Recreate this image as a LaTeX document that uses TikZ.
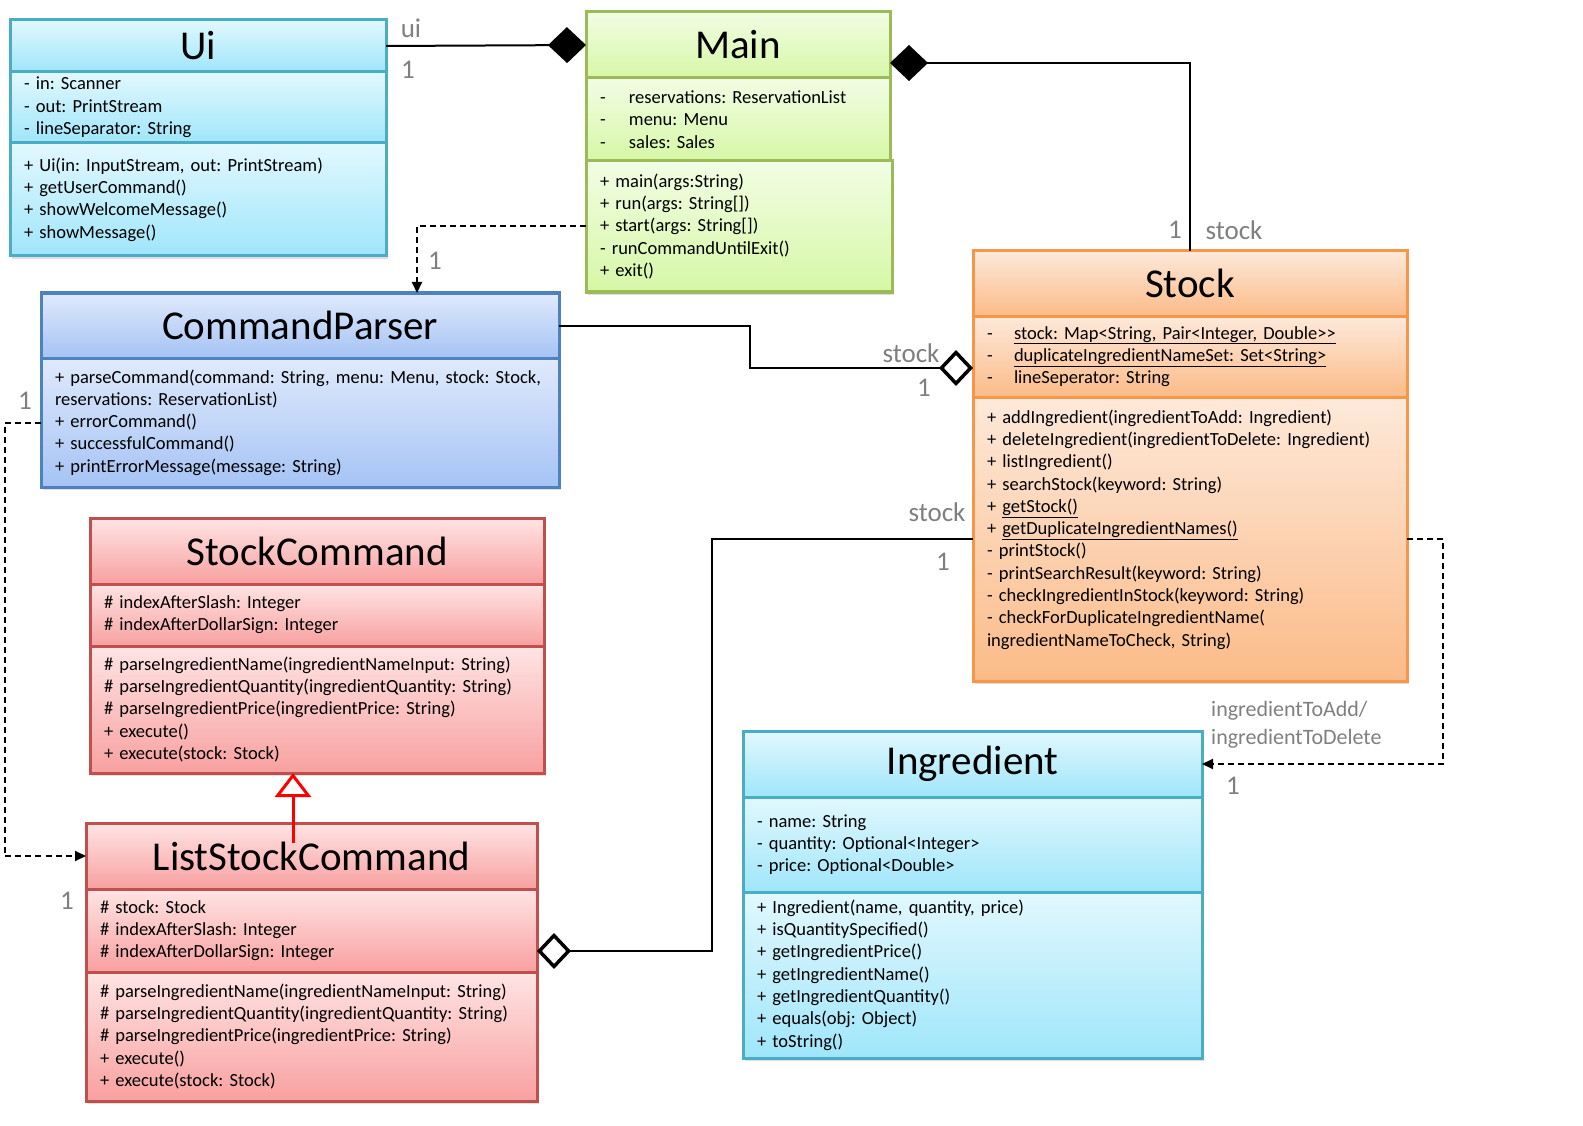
\documentclass[tikz,border=0pt]{standalone}
\usepackage{fontspec}
\setmainfont{Carlito}
\usetikzlibrary{arrows.meta,shadows}
\frenchspacing

\definecolor{cyanline}{HTML}{4BACC6}
\definecolor{cyantop}{HTML}{E2F8FE}
\definecolor{cyanbot}{HTML}{9FE6FA}
\definecolor{greenline}{HTML}{9BBB59}
\definecolor{greentop}{HTML}{F2FDE4}
\definecolor{greenbot}{HTML}{D6F7A6}
\definecolor{orangeline}{HTML}{F79646}
\definecolor{orangetop}{HTML}{FDE9DA}
\definecolor{orangebot}{HTML}{FBBB88}
\definecolor{blueline}{HTML}{4F81BD}
\definecolor{bluetop}{HTML}{E0EAFB}
\definecolor{bluebot}{HTML}{A5C3F5}
\definecolor{redline}{HTML}{C0504D}
\definecolor{redtop}{HTML}{FFE4E4}
\definecolor{redbot}{HTML}{F8A0A0}
\definecolor{labelgray}{HTML}{7F7F7F}

\begin{document}
\frenchspacing
\begin{tikzpicture}[x=1pt,y=-1pt,
    part/.style={draw, line width=3pt, anchor=north west, outer sep=0pt, inner sep=0pt,
        drop shadow={opacity=.25, shadow xshift=2pt, shadow yshift=-3pt}},
    head/.style={part, font=\fontsize{41}{48}\selectfont},
    body/.style={part, align=left, inner xsep=14pt, font=\fontsize{18.5}{22.3}\selectfont\frenchspacing},
    cyanpart/.style={draw=cyanline, top color=cyantop, bottom color=cyanbot},
    greenpart/.style={draw=greenline, top color=greentop, bottom color=greenbot},
    orangepart/.style={draw=orangeline, top color=orangetop, bottom color=orangebot},
    bluepart/.style={draw=blueline, top color=bluetop, bottom color=bluebot},
    redpart/.style={draw=redline, top color=redtop, bottom color=redbot},
    link/.style={line width=2pt},
    dep/.style={link, dash pattern=on 6pt off 4pt, -{Triangle[length=11pt,width=10pt]}},
    comp/.style={link, -{Diamond[length=38pt,width=36pt]}},
    aggr/.style={link, -{Diamond[open,length=34pt,width=36pt,line width=3.5pt]}},
    inherit/.style={red, line width=3pt, -{Triangle[open,length=24pt,width=36pt]}},
    lbl/.style={text=labelgray, inner sep=0pt, font=\fontsize{27}{30}\selectfont}]
    \useasboundingbox (0,0) rectangle (1583,1126);

    % Ui
    \node[head, cyanpart, minimum width=376pt, minimum height=52pt] (uiT) at (10,20) {Ui};
    \node[body, cyanpart, minimum width=376pt, minimum height=71pt, text width=348pt] (uiA) at (10,72)
        {- in: Scanner\\- out: PrintStream\\- lineSeparator: String};
    \node[body, cyanpart, minimum width=376pt, minimum height=113pt, text width=348pt] (uiM) at (10,143)
        {+ Ui(in: InputStream, out: PrintStream)\\+ getUserCommand()\\+ showWelcomeMessage()\\+ showMessage()};

    % Main
    \node[head, greenpart, minimum width=304pt, minimum height=66pt] (mainT) at (586,12) {Main};
    \node[body, greenpart, minimum width=304pt, minimum height=83pt, text width=276pt] (mainA) at (586,78)
        {\makebox[29pt][l]{-}reservations: ReservationList\\\makebox[29pt][l]{-}menu: Menu\\\makebox[29pt][l]{-}sales: Sales};
    \node[body, greenpart, minimum width=306pt, minimum height=131pt, text width=278pt] (mainM) at (586,161)
        {+ main(args:String)\\+ run(args: String[])\\+ start(args: String[])\\- runCommandUntilExit()\\+ exit()};

    % Stock
    \node[head, orangepart, minimum width=434pt, minimum height=65pt] (stockT) at (973,251) {Stock};
    \node[body, orangepart, minimum width=434pt, minimum height=81pt, text width=406pt] (stockA) at (973,316)
        {\makebox[27pt][l]{-}\underline{stock: Map<String, Pair<Integer, Double>{}>}\\
         \makebox[27pt][l]{-}\underline{duplicateIngredientNameSet: Set<String>}\\
         \makebox[27pt][l]{-}lineSeperator: String};
    \node[body, orangepart, minimum width=434pt, minimum height=284pt, text width=406pt] (stockM) at (973,397)
        {+ addIngredient(ingredientToAdd: Ingredient)\\+ deleteIngredient(ingredientToDelete: Ingredient)\\
         + listIngredient()\\+ searchStock(keyword: String)\\+ \underline{getStock()}\\
         + \underline{getDuplicateIngredientNames()}\\- printStock()\\- printSearchResult(keyword: String)\\
         - checkIngredientInStock(keyword: String)\\- checkForDuplicateIngredientName(\\
         ingredientNameToCheck, String)\\\mbox{}};

    % CommandParser
    \node[head, bluepart, minimum width=518pt, minimum height=65pt] (cpT) at (41,293) {CommandParser};
    \node[body, bluepart, minimum width=518pt, minimum height=129pt, text width=490pt] (cpM) at (41,358)
        {+ parseCommand(command: String, menu: Menu, stock: Stock,\\reservations: ReservationList)\\
         + errorCommand()\\+ successfulCommand()\\+ printErrorMessage(message: String)};

    % StockCommand
    \node[head, redpart, minimum width=454pt, minimum height=66pt] (scT) at (90,518) {StockCommand};
    \node[body, redpart, minimum width=454pt, minimum height=62pt, text width=426pt] (scA) at (90,584)
        {\# indexAfterSlash: Integer\\\# indexAfterDollarSign: Integer};
    \node[body, redpart, minimum width=454pt, minimum height=127pt, text width=426pt] (scM) at (90,646)
        {\# parseIngredientName(ingredientNameInput: String)\\\# parseIngredientQuantity(ingredientQuantity: String)\\
         \# parseIngredientPrice(ingredientPrice: String)\\+ execute()\\+ execute(stock: Stock)};

    % ListStockCommand
    \node[head, redpart, minimum width=451pt, minimum height=66pt] (lscT) at (86,823) {ListStockCommand};
    \node[body, redpart, minimum width=451pt, minimum height=83pt, text width=423pt] (lscA) at (86,889)
        {\# stock: Stock\\\# indexAfterSlash: Integer\\\# indexAfterDollarSign: Integer};
    \node[body, redpart, minimum width=451pt, minimum height=129pt, text width=423pt] (lscM) at (86,972)
        {\# parseIngredientName(ingredientNameInput: String)\\\# parseIngredientQuantity(ingredientQuantity: String)\\
         \# parseIngredientPrice(ingredientPrice: String)\\+ execute()\\+ execute(stock: Stock)};

    % Ingredient
    \node[head, cyanpart, minimum width=459pt, minimum height=66pt] (ingT) at (743,731) {Ingredient};
    \node[body, cyanpart, minimum width=459pt, minimum height=95pt, text width=431pt] (ingA) at (743,797)
        {- name: String\\- quantity: Optional<Integer>\\- price: Optional<Double>};
    \node[body, cyanpart, minimum width=459pt, minimum height=166pt, text width=431pt] (ingM) at (743,892)
        {+ Ingredient(name, quantity, price)\\+ isQuantitySpecified()\\+ getIngredientPrice()\\
         + getIngredientName()\\+ getIngredientQuantity()\\+ equals(obj: Object)\\+ toString()};

    % connectors
    \draw[comp] (uiT.east) -- (mainT.west);
    \draw[comp] (stockT.north) |- ([yshift=-18pt]mainT.east);
    \draw[dep] (mainM.west) -| ([xshift=117pt]cpT.north);
    \draw[aggr] (cpT.east) -- ++(191,0) |- ([yshift=-11.5pt]stockA.west);
    \draw[dep] (cpM.west) -- ++(-36,0) |- (lscT.west);
    \draw[inherit] ([xshift=-18.5pt,yshift=13pt]lscT.center) coordinate (gen) -- (gen |- scM.south);
    \draw[aggr] (stockM.west) -- ++(-261,0) |- ([yshift=-20.5pt]lscA.east);
    \draw[dep] (stockM.east) -- ++(36,0) |- (ingT.east);

    % multiplicities and roles
    \node[lbl] (lUi) at (411,28) {ui};
    \node[lbl] (lUiOne) at (408,70) {1};
    \node[lbl] (lMainOne) at (1175,230) {1};
    \node[lbl] (lMainStock) at (1234,230) {stock};
    \node[lbl] (lCpOne) at (435,261) {1};
    \node[lbl] (lCpStock) at (911,353) {stock};
    \node[lbl] (lCpStockOne) at (924,388) {1};
    \node[lbl] (lLscOne) at (25,401) {1};
    \node[lbl] (lLscTwo) at (67,901) {1};
    \node[lbl] (lLscStock) at (937,512) {stock};
    \node[lbl] (lLscStockOne) at (943,562) {1};
    \node[lbl, anchor=west, align=left, font=\fontsize{22}{28}\selectfont] (lIng) at (1211,725)
        {ingredientToAdd/\\ingredientToDelete};
    \node[lbl] (lIngOne) at (1233,786) {1};
\end{tikzpicture}
\end{document}
